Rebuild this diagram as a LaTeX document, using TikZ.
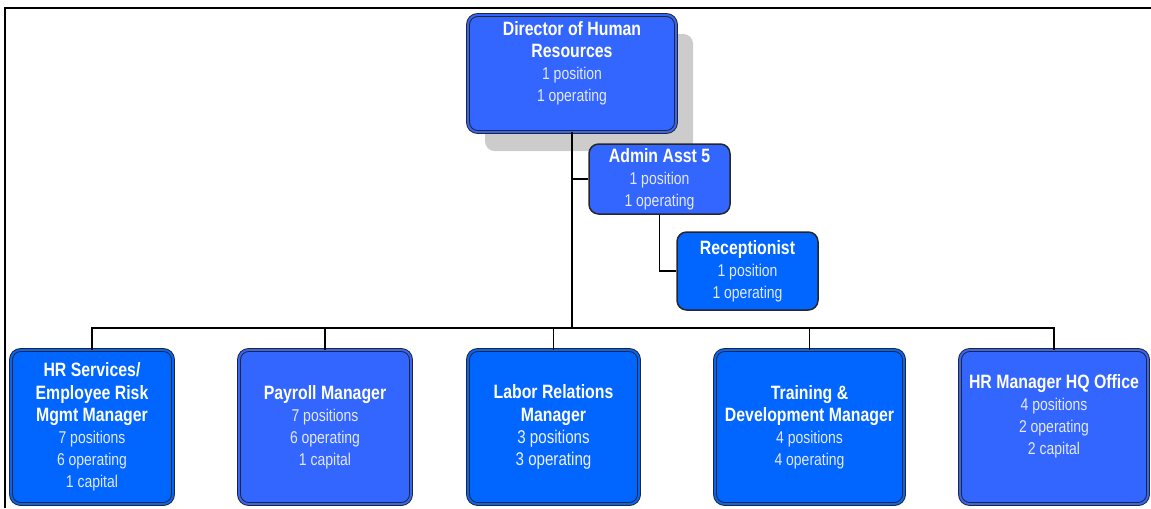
\documentclass[tikz,border=0pt]{standalone}
\usepackage{fontspec}
\setmainfont{Liberation Sans}[FakeStretch=0.82]
\usepackage{xcolor}
\usepackage{tikz}
\usetikzlibrary{positioning,shadows}
\definecolor{boxlight}{HTML}{3366FF}
\definecolor{boxdeep}{HTML}{0066FF}
\definecolor{numtext}{HTML}{E4E8FF}
\definecolor{shadowgrey}{HTML}{CCCCCC}
\newcommand{\posfont}{\fontsize{9.7}{11.9}\selectfont\mdseries\color{numtext}}
\newcommand{\bigpos}{\fontsize{10.5}{12.6}\selectfont\mdseries\color{white!94!blue}}

\begin{document}
\begin{tikzpicture}[x=0.02cm, y=-0.02cm,
  unit/.style={draw=black!85, line width=0.55pt, rounded corners=5.5pt, align=center,
    text=white, font=\fontsize{11}{12.6}\selectfont\bfseries, inner sep=0pt},
  twoline/.style={unit, double=#1, double distance=1.1pt},
  oneline/.style={unit, line width=0.85pt, fill=#1},
  link/.style={line width=0.85pt, black}]
  \useasboundingbox (0,0) rectangle (1151,508);
  % Frame
  \draw[line width=1.6pt] (5,508) -- (5,8) -- (1151,8);

  % Top of the chart
  \node[twoline=boxlight, fill=boxlight, minimum width=208*0.02cm, minimum height=117*0.02cm,
        text depth=14pt,
        drop shadow={shadow xshift=0.34cm, shadow yshift=-0.38cm, fill=shadowgrey, opacity=1}]
       (dir) at (572,73.5) {Director of Human\\Resources\\\posfont 1 position\\\posfont 1 operating};
  \node[oneline=boxlight, minimum width=141*0.02cm, minimum height=70*0.02cm]
       (admin) at (659.5,179) {Admin Asst 5\\\posfont 1 position\\\posfont 1 operating};
  \node[oneline=boxdeep, minimum width=141*0.02cm, minimum height=78*0.02cm]
       (recep) at (747.5,271) {Receptionist\\\posfont 1 position\\\posfont 1 operating};

  % Managers
  \node[twoline=boxdeep, fill=boxdeep, minimum width=162*0.02cm, minimum height=154*0.02cm]
       (hrs) at (92,427) {HR Services/\\Employee Risk\\Mgmt Manager\\\posfont 7 positions\\\posfont 6 operating\\\posfont 1 capital};
  \node[twoline=boxlight, fill=boxlight, minimum width=172*0.02cm, minimum height=154*0.02cm]
       (pay) at (325,427) {Payroll Manager\\\posfont 7 positions\\\posfont 6 operating\\\posfont 1 capital};
  \node[twoline=boxdeep, fill=boxdeep, minimum width=171*0.02cm, minimum height=154*0.02cm]
       (lab) at (553.5,427) {Labor Relations\\Manager\\\bigpos 3 positions\\\bigpos 3 operating};
  \node[twoline=boxdeep, fill=boxdeep, minimum width=189*0.02cm, minimum height=154*0.02cm]
       (trn) at (809.5,427) {Training \&\\Development Manager\\\posfont 4 positions\\\posfont 4 operating};
  \node[twoline=boxlight, fill=boxlight, minimum width=188*0.02cm, minimum height=154*0.02cm,
        text depth=14pt]
       (hq) at (1054,427) {HR Manager HQ Office\\\posfont 4 positions\\\posfont 2 operating\\\posfont 2 capital};

  % Reporting lines
  \coordinate (bus) at (572,328);
  \draw[link] (dir.south) -- (bus);
  \draw[link] (hrs.north) |- (bus) -| (hq.north);
  \foreach \m in {pay,lab,trn}
    \draw[link] (\m.north) -- (\m.north |- bus);
  \draw[link] (admin.west) -- (admin.west -| dir.south);
  \draw[link] (admin.south) |- (recep.west);
\end{tikzpicture}
\end{document}
